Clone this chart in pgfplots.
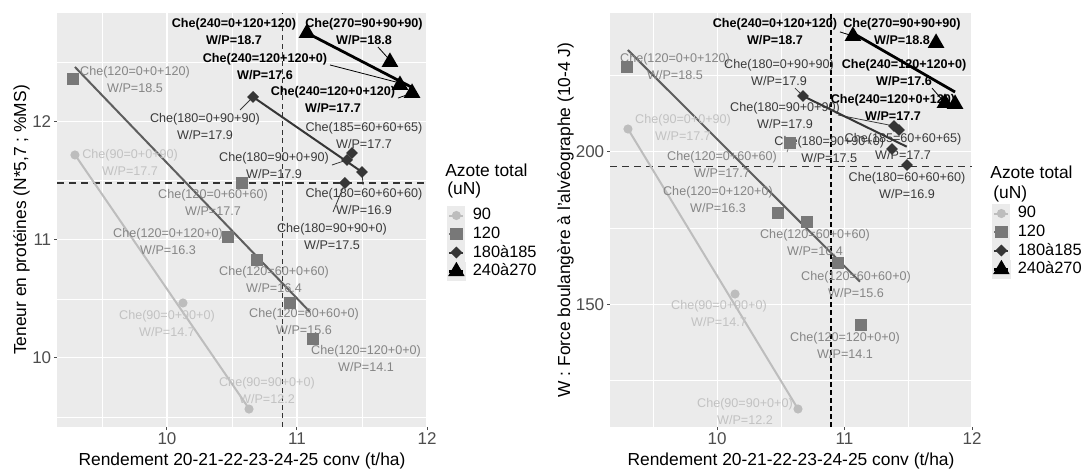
\documentclass[border=0pt]{standalone}
\usepackage{pgfplots}
\pgfplotsset{compat=1.18}
\usepackage{fontspec}
\setmainfont{Liberation Sans}
\definecolor{bg}{HTML}{EBEBEB}
\definecolor{c90}{HTML}{BDBDBD}
\definecolor{c120}{HTML}{787878}
\definecolor{l120}{HTML}{5E5E5E}
\definecolor{c180}{HTML}{363636}
\definecolor{t90}{HTML}{C2C2C2}
\definecolor{t120}{HTML}{858585}
\definecolor{t180}{HTML}{3A3A3A}
\definecolor{tickc}{HTML}{4D4D4D}
\newcommand\lfont{\fontsize{6.3}{8.5}\selectfont}
\newcommand\afont{\fontsize{8.7}{10}\selectfont}
\newcommand\kfont{\fontsize{8.2}{10}\selectfont}
\newcommand{\lab}[5]{\node[text=#3,align=center,font=\lfont,inner sep=0pt] at (axis cs:#1,#2) {#4\\#5};}
\newcommand{\labb}[4]{\node[text=black,align=center,font=\lfont\bfseries,inner sep=0pt] at (axis cs:#1,#2) {#3\\#4};}
\pgfplotsset{
 gg/.style={
  scale only axis, clip=false,
  axis background/.style={fill=bg},
  axis line style={draw=none},
  grid=both,
  major grid style={white, line width=0.55pt},
  minor grid style={white, line width=0.3pt},
  minor tick length=0pt,
  major tick length=1.5pt,
  tick align=outside,
  xtick pos=left, ytick pos=left,
  tick style={color=tickc, line width=0.5pt},
  ticklabel style={font=\fontsize{8.5}{10}\selectfont, text=tickc, inner sep=1.2pt},
  /pgf/number format/assume math mode=true,
  xtick={10,11,12},
  minor xtick={9.5,10.5,11.5},
  legend cell align=left,
  legend style={draw=none, fill=none, inner sep=0pt, outer sep=0pt, row sep=0pt, column sep=3.5pt,
    nodes={inner sep=0pt}, font=\kfont, anchor=north west},
 },
 k90/.style={c90, mark=*, mark size=1.75pt, line width=1pt},
 k120/.style={c120, mark=square*, mark size=2.6pt, line width=1pt},
 k180/.style={c180, mark=square*, mark options={rotate=45}, mark size=1.6pt, line width=1pt},
 k240/.style={black, mark=triangle*, mark size=3.4pt, line width=1.4pt},
 kimg/.style={legend image code/.code={\fill[bg] (0pt,-4.125pt) rectangle (8pt,4.125pt);
   \draw[mark repeat=2,mark phase=2] plot coordinates {(0.5pt,0pt)(4pt,0pt)(7.5pt,0pt)};}},
}
\begin{document}
\begin{tikzpicture}
\useasboundingbox (0,0) rectangle (542pt,234pt);
% ---------------- left panel ----------------
\begin{axis}[gg, at={(28.5pt,20.5pt)}, anchor=south west, width=185pt, height=207pt,
  xmin=9.154, xmax=12, ymin=9.415, ymax=12.92,
  ytick={10,11,12}, minor ytick={9.5,10.5,11.5,12.5},
  legend style={at={(1.054,0.5332)}}]
\addlegendimage{k90, kimg}
\addlegendimage{k120, kimg}
\addlegendimage{k180, kimg}
\addlegendimage{k240, kimg}
% reference lines
\addplot[black!80, line width=0.6pt, dash pattern=on 3.5pt off 2.5pt] coordinates {(9.154,11.48) (12,11.48)};
\addplot[black!80, line width=0.75pt, dash pattern=on 2.5pt off 1.8pt] coordinates {(10.89,9.415) (10.89,12.92)};
% regression lines
\addplot[c90, line width=1pt] coordinates {(9.292,11.72) (10.631,9.57)};
\addplot[l120, line width=1pt] coordinates {(9.292,12.463) (11.100,10.389)};
\addplot[c180, line width=1pt] coordinates {(10.662,12.209) (11.500,11.574)};
\addplot[black, line width=1.4pt] coordinates {(11.077,12.751) (11.885,12.29)};
% leader segments
\addplot[black, line width=0.4pt] coordinates {(11.254,12.480) (11.792,12.327)};
\addplot[black, line width=0.4pt] coordinates {(11.777,12.20) (11.88,12.24)};
\addplot[black, line width=0.4pt] coordinates {(11.623,12.632) (11.715,12.52)};
\addplot[t180, line width=0.4pt] coordinates {(10.562,12.099) (10.662,12.209)};
\addplot[t180, line width=0.4pt] coordinates {(11.269,11.633) (11.385,11.676)};
\addplot[t180, line width=0.4pt] coordinates {(11.508,11.464) (11.50,11.574)};
\addplot[t180, line width=0.4pt] coordinates {(11.277,11.235) (11.369,11.481)};
% points
\addplot[k90, only marks] coordinates {(9.292,11.718) (10.123,10.465) (10.631,9.567)};
\addplot[k120, only marks] coordinates {(9.277,12.361) (10.577,11.481) (10.469,11.024) (10.692,10.829) (10.946,10.465) (11.123,10.160)};
\addplot[k180, only marks] coordinates {(10.662,12.209) (11.423,11.735) (11.385,11.676) (11.500,11.574) (11.369,11.481)};
\addplot[k240, only marks] coordinates {(11.077,12.751) (11.715,12.505) (11.792,12.310) (11.885,12.243)};
% labels
\labb{10.515}{12.763}{Che(240=0+120+120)}{W/P=18.7}
\labb{11.515}{12.759}{Che(270=90+90+90)}{W/P=18.8}
\labb{10.754}{12.467}{Che(240=120+120+0)}{W/P=17.6}
\labb{11.277}{12.188}{Che(240=120+0+120)}{W/P=17.7}
\lab{11.515}{11.883}{t180}{Che(185=60+60+65)}{W/P=17.7}
\lab{10.292}{11.963}{t180}{Che(180=0+90+90)}{W/P=17.9}
\lab{10.823}{11.625}{t180}{Che(180=90+0+90)}{W/P=17.9}
\lab{11.515}{11.320}{t180}{Che(180=60+60+60)}{W/P=16.9}
\lab{11.269}{11.024}{t180}{Che(180=90+90+0)}{W/P=17.5}
\lab{9.754}{12.353}{t120}{Che(120=0+0+120)}{W/P=18.5}
\lab{10.354}{11.316}{t120}{Che(120=0+60+60)}{W/P=17.7}
\lab{10.008}{10.986}{t120}{Che(120=0+120+0)}{W/P=16.3}
\lab{10.823}{10.668}{t120}{Che(120=60+0+60)}{W/P=16.4}
\lab{11.054}{10.308}{t120}{Che(120=60+60+0)}{W/P=15.6}
\lab{11.531}{9.995}{t120}{Che(120=120+0+0)}{W/P=14.1}
\lab{9.716}{11.654}{t90}{Che(90=0+0+90)}{W/P=17.7}
\lab{10.000}{10.291}{t90}{Che(90=0+90+0)}{W/P=14.7}
\lab{10.769}{9.720}{t90}{Che(90=90+0+0)}{W/P=12.2}
\node[anchor=base west, font=\afont, inner sep=0pt] at (rel axis cs:1.0486,0.6039) {Azote total};
\node[anchor=base west, font=\afont, inner sep=0pt] at (rel axis cs:1.054,0.5604) {(uN)};
\legend{90,120,180à185,240à270}
\end{axis}
% ---------------- right panel ----------------
\begin{axis}[gg, at={(305pt,20.5pt)}, anchor=south west, width=181pt, height=207pt,
  xmin=9.16, xmax=12, ymin=109.8, ymax=245.5,
  ytick={150,200}, minor ytick={125,175,225},
  legend style={at={(1.0552,0.538)}}]
\addlegendimage{k90, kimg}
\addlegendimage{k120, kimg}
\addlegendimage{k180, kimg}
\addlegendimage{k240, kimg}
\addplot[black!80, line width=0.6pt, dash pattern=on 3.5pt off 2.5pt] coordinates {(9.16,195.1) (12,195.1)};
\addplot[black, line width=1pt, dash pattern=on 2.5pt off 1.5pt] coordinates {(10.89,109.8) (10.89,245.5)};
\addplot[c90, line width=1pt] coordinates {(9.301,207.48) (10.635,115.70)};
\addplot[l120, line width=1pt] coordinates {(9.30,233.37) (11.121,157.43)};
\addplot[c180, line width=1pt] coordinates {(10.674,218.29) (11.488,201.68)};
\addplot[black, line width=1.4pt] coordinates {(11.066,238.9) (11.867,219.6)};
\addplot[black, line width=0.4pt] coordinates {(10.964,239.3) (11.066,237.96)};
\addplot[black, line width=0.4pt] coordinates {(11.686,220.9) (11.788,216.0)};
\addplot[t180, line width=0.4pt] coordinates {(10.611,220.9) (10.674,218.29)};
\addplot[t180, line width=0.4pt] coordinates {(10.949,212.07) (11.388,208.46)};
\addplot[t120, line width=0.4pt] coordinates {(10.549,199.9) (10.572,202.9)};
\addplot[k90, only marks] coordinates {(9.301,207.48) (10.141,153.39) (10.635,115.70)};
\addplot[k120, only marks] coordinates {(9.293,227.80) (10.572,202.89) (10.478,179.94) (10.706,177.0) (10.949,163.56) (11.129,143.23)};
\addplot[k180, only marks] coordinates {(10.674,218.29) (11.388,208.46) (11.427,207.15) (11.372,200.92) (11.490,195.68)};
\addplot[k240, only marks] coordinates {(11.066,237.96) (11.718,235.67) (11.788,216.0) (11.867,215.67)};
\labb{10.454}{239.27}{Che(240=0+120+120)}{W/P=18.7}
\labb{11.451}{239.27}{Che(270=90+90+90)}{W/P=18.8}
\labb{11.467}{226.0}{Che(240=120+120+0)}{W/P=17.6}
\labb{11.380}{214.36}{Che(240=120+0+120)}{W/P=17.7}
\lab{10.486}{226.0}{t180}{Che(180=0+90+90)}{W/P=17.9}
\lab{10.533}{211.90}{t180}{Che(180=90+0+90)}{W/P=17.9}
\lab{11.459}{201.74}{t180}{Che(185=60+60+65)}{W/P=17.7}
\lab{10.880}{200.92}{t180}{Che(180=90+90+0)}{W/P=17.5}
\lab{11.490}{189.12}{t180}{Che(180=60+60+60)}{W/P=16.9}
\lab{9.670}{228.13}{t120}{Che(120=0+0+120)}{W/P=18.5}
\lab{10.039}{195.84}{t120}{Che(120=0+60+60)}{W/P=17.7}
\lab{10.007}{184.21}{t120}{Che(120=0+120+0)}{W/P=16.3}
\lab{10.768}{170.44}{t120}{Che(120=60+0+60)}{W/P=16.4}
\lab{11.090}{156.51}{t120}{Che(120=60+60+0)}{W/P=15.6}
\lab{11.004}{136.68}{t120}{Che(120=120+0+0)}{W/P=14.1}
\lab{9.733}{207.81}{t90}{Che(90=0+0+90)}{W/P=17.7}
\lab{10.015}{147.0}{t90}{Che(90=0+90+0)}{W/P=14.7}
\lab{10.219}{114.88}{t90}{Che(90=90+0+0)}{W/P=12.2}
\node[anchor=base west, font=\afont, inner sep=0pt] at (rel axis cs:1.0497,0.6014) {Azote total};
\node[anchor=base west, font=\afont, inner sep=0pt] at (rel axis cs:1.058,0.5531) {(uN)};
\legend{90,120,180à185,240à270}
\end{axis}
% axis titles
\node[rotate=90, anchor=base, font=\afont, inner sep=0pt] at (13pt,124pt) {Teneur en protéines (N*5,7 ; \%MS)};
\node[rotate=90, anchor=base, font=\afont, inner sep=0pt] at (285pt,124pt) {W : Force boulangère à l'alvéographe (10-4 J)};
\node[anchor=base, font=\afont, inner sep=0pt] at (121pt,1.5pt) {Rendement 20-21-22-23-24-25 conv (t/ha)};
\node[anchor=base, font=\afont, inner sep=0pt] at (395.5pt,1.5pt) {Rendement 20-21-22-23-24-25 conv (t/ha)};
\end{tikzpicture}
\end{document}
